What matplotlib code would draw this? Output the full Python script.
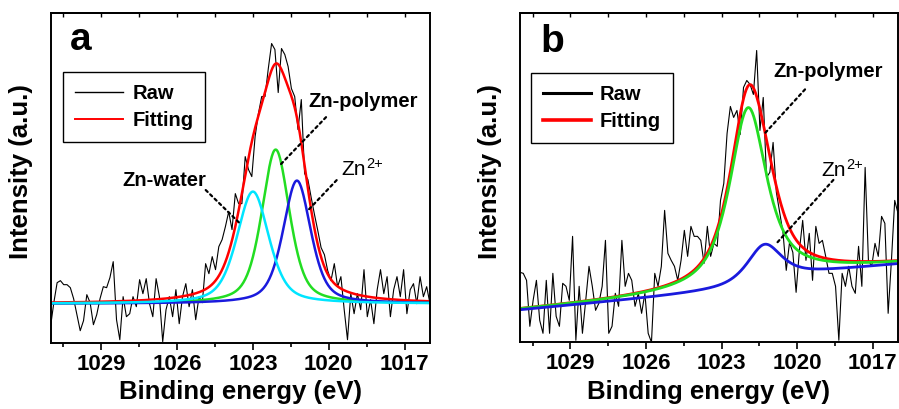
import numpy as np
import matplotlib
matplotlib.use('Agg')
import matplotlib.pyplot as plt
from matplotlib.lines import Line2D
from matplotlib.ticker import MultipleLocator

plt.rcParams['font.family'] = ['Liberation Sans', 'DejaVu Sans']

# ---------------- data ----------------
energy_raw = np.linspace(1031, 1016, 116)
fit_energy = np.linspace(1031, 1016, 601)

raw_a = [16, 40, 60, 62, 58, 58, 55, 44, 28, 12,
         22, 48, 40, 18, 28, 44, 56, 55, 65, 81,
         23, 3, 46, 26, 29, 46, 36, 63, 49, 64,
         39, 26, 64, 46, 1, 33, 46, 26, 53, 19,
         46, 59, 36, 53, 23, 46, 40, 79, 69, 86,
         73, 96, 103, 116, 131, 113, 149, 139,
         139, 186, 173, 166, 206, 229, 246, 246, 274, 299,
         293, 250, 294, 288, 276, 254, 246, 213, 243, 169,
         163, 145, 128, 112, 95, 88, 72, 62, 79, 56,
         66, 33, 3, 49, 29, 49, 33, 73, 26, 43,
         19, 53, 73, 49, 66, 26, 53, 66, 46, 73,
         29, 53, 59, 39, 66, 46, 56, 39]

raw_b = [70, 69, 62, 16, 42, 62, 22, 9, 62, 9,
         69, 26, 16, 59, 56, 42, 106, 2, 56, 9,
         42, 76, 56, 32, 39, 56, 102, 9, 16, 49,
         36, 102, 56, 69, 62, 36, 49, 29, 49, 9,
         0, 69, 56, 76, 132, 89, 82, 76, 62, 82,
         112, 86, 116, 106, 106, 102, 79, 116,
         86, 99, 96, 142, 159, 209, 236, 225, 232, 208,
         255, 262, 258, 248, 292, 212, 245, 165, 170, 200,
         150, 130, 110, 72, 100, 90, 50, 92, 122, 82,
         109, 62, 116, 99, 102, 86, 69, 69, 56, 2,
         69, 56, 76, 56, 49, 96, 56, 175, 82, 76,
         99, 86, 126, 119, 29, 82, 142, 129]

# panel a fitted components: Zn-water, Zn-polymer, Zn2+
a_centers = [1023.0, 1022.1, 1021.26]
a_heights = [112, 154, 123]
a_fwhm = [1.5, 1.3, 1.3]
a_eta = [0.5, 0.5, 0.5]
a_baseline = 39
a_colors = ['#00E5FF', '#22DD22', '#1A1ADD']

# panel b fitted components: Zn-polymer, Zn2+
b_centers = [1021.95, 1021.3]
b_heights = [176, 35.4]
b_fwhm = [1.75, 1.6]
b_eta = [0.8, 0.7]
b_bg_offset = 32
b_bg_slope = 2.3
b_bg_step = 12.4
b_bg_step_center = 1021.9
b_bg_step_width = 1.0
b_colors = ['#22DD22', '#1A1ADD']

xticks = [1029, 1026, 1023, 1020, 1017]
xlim = (1031, 1016)
ylim = (0, 329.5)


def pseudo_voigt(e, c, h, fwhm, eta):
    x = (e - c) / fwhm
    lor = 1.0 / (1.0 + 4.0 * x ** 2)
    gau = np.exp(-4.0 * np.log(2) * x ** 2)
    return h * (eta * lor + (1 - eta) * gau)


# ---------------- figure ----------------
fig = plt.figure(figsize=(8.99, 4.09), dpi=100)
axa = fig.add_axes([0.0562, 0.1621, 0.4221, 0.8061])
axb = fig.add_axes([0.5784, 0.1631, 0.4205, 0.8051])


def style_axes(ax):
    ax.set_xlim(*xlim)
    ax.set_ylim(*ylim)
    ax.set_xticks(xticks)
    ax.set_xticklabels([str(t) for t in xticks], fontweight='bold')
    ax.xaxis.set_minor_locator(MultipleLocator(1.5))
    ax.set_yticks([])
    ax.tick_params(axis='x', which='major', direction='out', length=5,
                   width=1.2, labelsize=16, pad=3)
    ax.tick_params(axis='x', which='minor', direction='out', length=3,
                   width=1.2)
    for s in ax.spines.values():
        s.set_linewidth(1.4)
    sec = ax.secondary_xaxis('top')
    sec.xaxis.set_major_locator(MultipleLocator(1.5))
    sec.tick_params(direction='in', length=3, width=1.0, labeltop=False)
    sec.spines['top'].set_linewidth(1.4)
    ax.set_xlabel('Binding energy (eV)', fontsize=18.5, fontweight='bold',
                  labelpad=4)
    ax.set_ylabel('Intensity (a.u.)', fontsize=18.5, fontweight='bold')
    ax.yaxis.set_label_coords(-0.047, 0.52)


def zn2plus(ax, x, y):
    t = ax.text(x, y, 'Zn', transform=ax.transAxes, fontsize=15,
                va='baseline', ha='left')
    ax.annotate('2+', xy=(1.0, 0.78), xycoords=t, fontsize=10.5,
                va='center', ha='left')


def legend(ax, anchor, lw_raw, lw_fit):
    handles = [Line2D([], [], color='black', lw=lw_raw),
               Line2D([], [], color='#FF0000', lw=lw_fit)]
    leg = ax.legend(handles, ['Raw', 'Fitting'], loc='upper left',
                    bbox_to_anchor=anchor, borderaxespad=0,
                    prop={'weight': 'bold', 'size': 14.5}, frameon=True,
                    fancybox=False, edgecolor='black', framealpha=1,
                    handlelength=2.4, handletextpad=0.45, labelspacing=0.4,
                    borderpad=0.6)
    leg.get_frame().set_linewidth(1.0)


dots = dict(arrowstyle='-', linestyle=(0, (1.2, 1.6)), lw=1.6, color='black',
            shrinkA=0, shrinkB=0)

# ---- panel a ----
ax = axa
style_axes(ax)
ax.plot(energy_raw, raw_a, color='black', lw=0.8)
comps_a = [pseudo_voigt(fit_energy, c, h, w, eta)
           for c, h, w, eta in zip(a_centers, a_heights, a_fwhm, a_eta)]
ax.plot(fit_energy, a_baseline + sum(comps_a), color='#FF0000', lw=1.8)
for idx in [1, 2, 0]:
    ax.plot(fit_energy, a_baseline + comps_a[idx], color=a_colors[idx], lw=1.8)

ax.text(0.051, 0.888, 'a', transform=ax.transAxes, fontsize=28,
        fontweight='bold', va='baseline')
legend(ax, (0.032, 0.822), 1.0, 1.4)

ax.text(0.679, 0.731, 'Zn-polymer', transform=ax.transAxes, fontsize=14.5,
        fontweight='bold', va='center', ha='left')
ax.annotate('', xy=(0.605, 0.539), xytext=(0.726, 0.684),
            xycoords='axes fraction', textcoords='axes fraction',
            arrowprops=dots)
zn2plus(ax, 0.767, 0.508)
ax.annotate('', xy=(0.679, 0.402), xytext=(0.754, 0.493),
            xycoords='axes fraction', textcoords='axes fraction',
            arrowprops=dots)
ax.text(0.190, 0.493, 'Zn-water', transform=ax.transAxes, fontsize=14.5,
        fontweight='bold', va='center', ha='left')
ax.annotate('', xy=(0.499, 0.362), xytext=(0.409, 0.463),
            xycoords='axes fraction', textcoords='axes fraction',
            arrowprops=dots)

# ---- panel b ----
ax = axb
style_axes(ax)
ax.plot(energy_raw, raw_b, color='black', lw=0.8)
fe = fit_energy
bg_b = (b_bg_offset + b_bg_slope * (xlim[0] - fe)
        + b_bg_step * (0.5 - np.arctan((fe - b_bg_step_center)
                                        / b_bg_step_width) / np.pi))
comps_b = [pseudo_voigt(fe, c, h, w, eta)
           for c, h, w, eta in zip(b_centers, b_heights, b_fwhm, b_eta)]
ax.plot(fe, bg_b + sum(comps_b), color='#FF0000', lw=2.0)
ax.plot(fe, bg_b + comps_b[0], color=b_colors[0], lw=2.0)
ax.plot(fe, bg_b + comps_b[1], color=b_colors[1], lw=2.0)

ax.text(0.053, 0.881, 'b', transform=ax.transAxes, fontsize=28,
        fontweight='bold', va='baseline')
legend(ax, (0.028, 0.819), 2.2, 2.6)

ax.text(0.670, 0.822, 'Zn-polymer', transform=ax.transAxes, fontsize=14.5,
        fontweight='bold', va='center', ha='left')
ax.annotate('', xy=(0.648, 0.635), xytext=(0.754, 0.768),
            xycoords='axes fraction', textcoords='axes fraction',
            arrowprops=dots)
zn2plus(ax, 0.798, 0.506)
ax.annotate('', xy=(0.679, 0.301), xytext=(0.829, 0.493),
            xycoords='axes fraction', textcoords='axes fraction',
            arrowprops=dots)

fig.savefig('out.png', dpi=100)
